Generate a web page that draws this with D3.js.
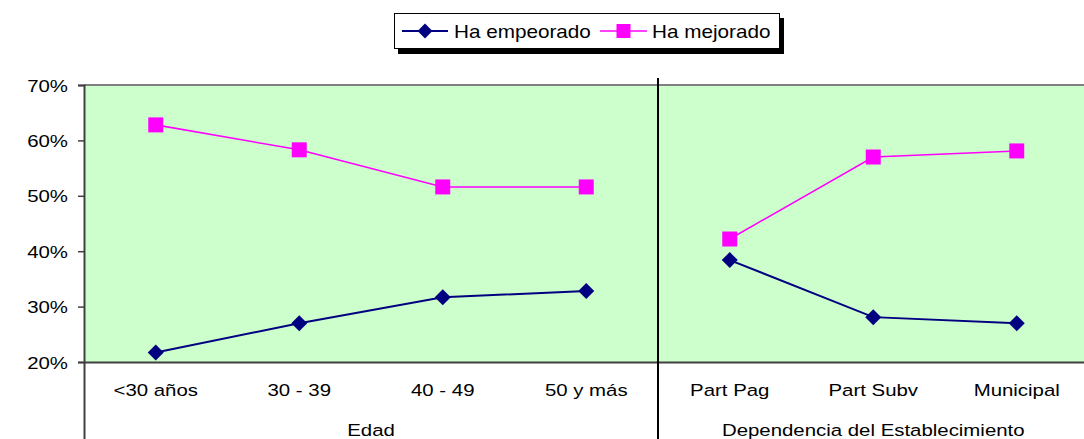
<!DOCTYPE html>
<html><head><meta charset="utf-8">
<script src="https://cdn.jsdelivr.net/npm/d3@7"></script>
<style>
html,body{margin:0;padding:0;background:#fff;overflow:hidden}
text{font-family:"Liberation Sans",Arial,sans-serif;fill:#000}
</style></head>
<body>
<svg id="chart" width="1084" height="439"></svg>
<script>
// ---- data ----
const categories = ["<30 años","30 - 39","40 - 49","50 y más","Part Pag","Part Subv","Municipal"];
const groupLabels = ["Edad","Dependencia del Establecimiento"];
const groupSizes = [4,3];
const seriesNames = ["Ha empeorado","Ha mejorado"];
const empeorado = [0.217,0.270,0.317,0.328,0.384,0.281,0.270];
const mejorado  = [0.628,0.583,0.516,0.516,0.422,0.570,0.581];
const yTicks = [0.2,0.3,0.4,0.5,0.6,0.7];

// ---- layout ----
const svg = d3.select("#chart");
const pL = 84, pR = 1088.5, pT = 85, pB = 362;
const sx = 1.2; // horizontal stretch of text
const x = d3.scaleBand().domain(categories).range([pL,pR]).padding(0);
const y = d3.scaleLinear().domain([0.2,0.7]).range([pB,pT]);
const colors = ["#000080","#FF00FF"];
const bw = x.bandwidth();

function stext(g, str, tx, ty, size, anchor, stretch){
  return g.append("text").attr("transform",`translate(${tx},${ty}) scale(${stretch||sx},1)`)
    .attr("text-anchor",anchor).style("font-size",size+"px").text(str);
}

// plot area
svg.append("rect").attr("x",pL).attr("y",pT).attr("width",pR-pL).attr("height",pB-pT)
  .attr("fill","#CCFFCC");
svg.append("line").attr("x1",pL).attr("x2",pR).attr("y1",pT).attr("y2",pT)
  .attr("stroke","#808080").attr("stroke-width",2);

// y axis
const yAxis = d3.axisLeft(y).tickValues(yTicks).tickFormat(d3.format(".0%")).tickSize(6).tickPadding(8);
const yg = svg.append("g").attr("transform",`translate(${pL},0)`).call(yAxis);
yg.select(".domain").attr("stroke","#404040").attr("stroke-width",2);
yg.selectAll(".tick line").attr("stroke","#404040").attr("stroke-width",1.5);
yg.selectAll(".tick text").remove();
yg.selectAll(".tick").each(function(d){
  stext(d3.select(this), d3.format(".0%")(d), -16, 6, 17, "end");
});

// x axis (bottom line)
const xAxis = d3.axisBottom(x).tickSize(0).tickPadding(0);
const xg = svg.append("g").attr("transform",`translate(0,${pB})`).call(xAxis);
xg.select(".domain").attr("stroke","#404040").attr("stroke-width",2);
xg.selectAll(".tick text").remove();
xg.selectAll(".tick").each(function(d){
  stext(d3.select(this), d, 0, 34, 17, "middle");
});

// group separators & labels
svg.append("line").attr("x1",pL+0.5).attr("x2",pL+0.5).attr("y1",pB).attr("y2",439)
  .attr("stroke","#404040").attr("stroke-width",2);
let start = 0;
groupSizes.forEach((n,i)=>{
  const x0 = x(categories[start]), x1 = x(categories[start+n-1]) + bw;
  stext(svg, groupLabels[i], (x0+x1)/2, 436, 17, "middle");
  if(i < groupSizes.length-1){
    svg.append("line").attr("x1",x1).attr("x2",x1).attr("y1",78).attr("y2",439)
      .attr("stroke","#000").attr("stroke-width",2);
  }
  start += n;
});

// series
const series = [empeorado, mejorado];
series.forEach((vals,si)=>{
  const g = svg.append("g");
  let s = 0;
  groupSizes.forEach(n=>{
    const pts = d3.range(s,s+n).map(i=>[x(categories[i])+bw/2, y(vals[i])]);
    g.append("path").attr("d", d3.line()(pts)).attr("fill","none")
      .attr("stroke",colors[si]).attr("stroke-width", si===0?2:1.6);
    s += n;
  });
  const symPath = d3.symbol().type(d3.symbolSquare).size(si===0?128:225)();
  g.selectAll("path.m").data(vals).join("path").attr("class","m")
    .attr("d", symPath)
    .attr("transform",(d,i)=>`translate(${x(categories[i])+bw/2},${y(d)})` + (si===0?" rotate(45)":""))
    .attr("fill",colors[si]);
});

// legend
const lg = svg.append("g");
lg.append("rect").attr("x",398).attr("y",18).attr("width",386).attr("height",36).attr("fill","#000");
lg.append("rect").attr("x",394.5).attr("y",13.5).attr("width",385).attr("height",35)
  .attr("fill","#fff").attr("stroke","#000").attr("stroke-width",1);
const legendItems = [{x0:402,x1:448,tx:454},{x0:600,x1:647,tx:652}];
legendItems.forEach((it,i)=>{
  const cy = 31;
  lg.append("line").attr("x1",it.x0).attr("x2",it.x1).attr("y1",cy).attr("y2",cy)
    .attr("stroke",colors[i]).attr("stroke-width",i===0?2:1.6);
  lg.append("path").attr("d", d3.symbol().type(d3.symbolSquare).size(i===0?110:196)())
    .attr("transform",`translate(${(it.x0+it.x1)/2},${cy})`+(i===0?" rotate(45)":""))
    .attr("fill",colors[i]);
  stext(lg, seriesNames[i], it.tx, 38, 18, "start", 1.15);
});
</script>
</body></html>
